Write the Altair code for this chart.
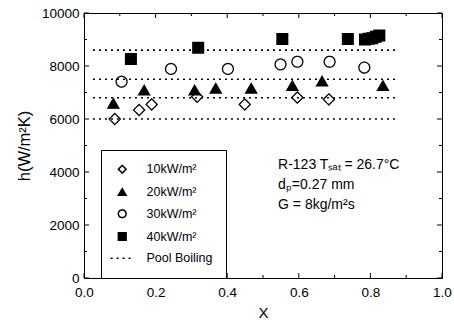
import altair as alt
import pandas as pd

# ---- measured heat transfer coefficients, h (W/m^2K) vs vapour quality X ----
SERIES = ["10kW/m²", "20kW/m²", "30kW/m²", "40kW/m²", "Pool Boiling"]
MARKERS = ["diamond", "triangle-up", "circle", "square"]

x_10 = [0.086, 0.154, 0.189, 0.316, 0.449, 0.596, 0.684]
h_10 = [6000, 6340, 6550, 6840, 6550, 6810, 6740]

x_20 = [0.082, 0.168, 0.309, 0.368, 0.467, 0.582, 0.665, 0.835]
h_20 = [6590, 7090, 7090, 7160, 7160, 7260, 7430, 7260]

x_30 = [0.105, 0.243, 0.402, 0.549, 0.596, 0.686, 0.783]
h_30 = [7410, 7890, 7890, 8060, 8160, 8160, 7940]

x_40 = [0.131, 0.319, 0.554, 0.737, 0.785, 0.795, 0.805, 0.815, 0.825]
h_40 = [8260, 8690, 9020, 9020, 9000, 9030, 9050, 9100, 9150]

# pool boiling reference levels, drawn across the measured quality range
pool_h = [6000, 6800, 7500, 8600]
pool_x_from = 0.025
pool_x_to = 0.88

note_lines = ["R-123 Tₛₐₜ = 26.7°C", "dₚ=0.27 mm", "G = 8kg/m²s"]
note_x = 0.542
note_h = [4260, 3510, 2750]

X_MAJOR = [0.0, 0.2, 0.4, 0.6, 0.8, 1.0]
X_MINOR = [0.1, 0.3, 0.5, 0.7, 0.9]
Y_MAJOR = [0, 2000, 4000, 6000, 8000, 10000]
Y_MINOR = [1000, 3000, 5000, 7000, 9000]

FONT = "Liberation Sans"
PLOT_W, PLOT_H = 358, 265

rows = []
for name, marker, xs, hs in zip(SERIES[:4], MARKERS, [x_10, x_20, x_30, x_40], [h_10, h_20, h_30, h_40]):
    rows += [{"x": a, "h": b, "series": name, "marker": marker} for a, b in zip(xs, hs)]
points = pd.DataFrame(rows)

pool = pd.DataFrame({
    "x": [pool_x_from] * len(pool_h),
    "x2": [pool_x_to] * len(pool_h),
    "h": pool_h,
    "series": ["Pool Boiling"] * len(pool_h),
})

notes = pd.DataFrame({"x": [note_x] * len(note_lines), "h": note_h, "text": note_lines})

x_scale = alt.Scale(domain=[0, 1], nice=False, zero=False)
y_scale = alt.Scale(domain=[0, 10000], nice=False)

shape_scale = alt.Scale(domain=SERIES, range=["diamond", "triangle-up", "circle", "square", "M-3,0H3"])
fill_scale = alt.Scale(domain=SERIES, range=["white", "black", "white", "black", "transparent"])
dash_scale = alt.Scale(domain=SERIES, range=[[1, 0], [1, 0], [1, 0], [1, 0], [2, 4]])
size_scale = alt.Scale(domain=MARKERS, range=[125, 115, 105, 90])

# axes carry the labels and titles; the inward ticks are drawn as rule layers below
common_axis = dict(grid=False, domain=False, ticks=False, tickSize=0,
                   labelFont=FONT, labelColor="black", labelFontSize=13.5,
                   titleFont=FONT, titleColor="black", titleFontWeight="normal",
                   labelFlush=False, labelOverlap=False)

x_bottom = alt.Axis(orient="bottom", values=X_MAJOR, format=".1f", labelPadding=7,
                    title="X", titleFontSize=15, titlePadding=7, **common_axis)
y_left = alt.Axis(orient="left", values=Y_MAJOR, format="d", labelPadding=5,
                  title="h(W/m²K)", titleFontSize=16.5, titlePadding=9, **common_axis)

NB = "\u00a0"
legend = alt.Legend(
    orient="none", legendX=17, legendY=137, title=None,
    strokeColor="black", fillColor="white", padding=13,
    symbolSize=60, symbolOffset=2, labelOffset=18, rowPadding=7.75,
    labelFont=FONT, labelFontSize=12.5, labelColor="black",
    labelExpr=f"datum.label == 'Pool Boiling' ? '{NB * 3}Pool Boiling{NB * 3}' : datum.label",
)

marks = alt.Chart(points).mark_point(filled=False, stroke="black", strokeWidth=1.3, opacity=1).encode(
    x=alt.X("x:Q", scale=x_scale, axis=x_bottom),
    y=alt.Y("h:Q", scale=y_scale, axis=y_left),
    shape=alt.Shape("series:N", scale=shape_scale, legend=legend),
    fill=alt.Fill("series:N", scale=fill_scale, legend=legend),
    strokeDash=alt.StrokeDash("series:N", scale=dash_scale, legend=legend),
    size=alt.Size("marker:N", scale=size_scale, legend=None),
)

pool_lines = alt.Chart(pool).mark_rule(stroke="black", strokeWidth=1.6).encode(
    x=alt.X("x:Q", scale=x_scale, axis=None),
    x2="x2:Q",
    y=alt.Y("h:Q", scale=y_scale, axis=None),
    strokeDash=alt.StrokeDash("series:N", scale=dash_scale, legend=legend),
)

note_text = alt.Chart(notes).mark_text(align="left", baseline="middle", fontSize=14,
                                       font=FONT, color="black").encode(
    x=alt.X("x:Q", scale=x_scale, axis=None),
    y=alt.Y("h:Q", scale=y_scale, axis=None),
    text="text:N",
)


def x_ticks(values, length, top):
    """Inward tick marks on the bottom or top frame edge."""
    y0 = 0 if top else PLOT_H
    y1 = length if top else PLOT_H - length
    return alt.Chart(pd.DataFrame({"v": values})).mark_rule(color="black", strokeWidth=1).encode(
        x=alt.X("v:Q", scale=x_scale, axis=None), y=alt.value(y0), y2=alt.value(y1))


def y_ticks(values, length, right):
    """Inward tick marks on the left or right frame edge."""
    x0 = PLOT_W if right else 0
    x1 = PLOT_W - length if right else length
    return alt.Chart(pd.DataFrame({"v": values})).mark_rule(color="black", strokeWidth=1).encode(
        y=alt.Y("v:Q", scale=y_scale, axis=None), x=alt.value(x0), x2=alt.value(x1))


tick_layers = [
    x_ticks(X_MAJOR, 5, False), x_ticks(X_MINOR, 3, False),
    x_ticks(X_MAJOR, 5, True), x_ticks(X_MINOR, 3, True),
    y_ticks(Y_MAJOR, 5, False), y_ticks(Y_MINOR, 3, False),
    y_ticks(Y_MAJOR, 5, True), y_ticks(Y_MINOR, 3, True),
]

chart = alt.layer(marks, pool_lines, note_text, *tick_layers).resolve_axis(
    x="independent", y="independent"
).properties(
    width=PLOT_W, height=PLOT_H,
    autosize=alt.AutoSizeParams(type="none"),
    padding={"left": 84, "top": 13, "right": 12, "bottom": 47},
    background="white",
).configure_view(stroke="black", strokeWidth=1)

chart.save("out.html", embed_options={"renderer": "svg", "actions": False})
